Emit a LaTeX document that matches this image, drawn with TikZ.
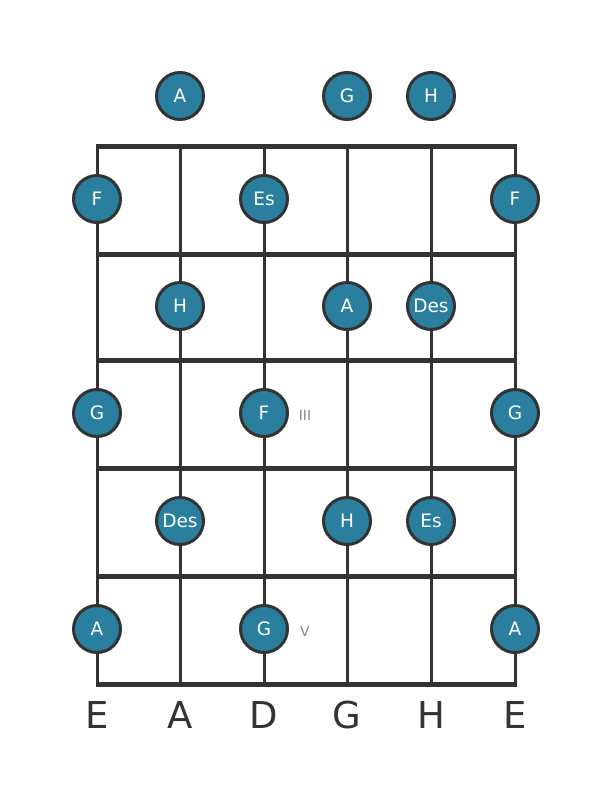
\documentclass[tikz,border=0pt]{standalone}
\usepackage{fontspec}
\setmainfont{DejaVu Sans}
\definecolor{dotfill}{HTML}{2A7F9E}
\definecolor{ink}{HTML}{333333}
\definecolor{mark}{HTML}{888888}
\begin{document}
\begin{tikzpicture}[x=1pt,y=-1pt,
  fretline/.style={draw=ink,line width=5pt},
  stringline/.style={draw=ink,line width=3pt},
  notedot/.style={circle,draw=ink,line width=3pt,fill=dotfill,minimum size=47pt,inner sep=0pt,text=white,font=\fontsize{18.5}{18.5}\selectfont},
  strlabel/.style={text=ink,font=\fontsize{37}{37}\selectfont},
  posmark/.style={text=mark,font=\fontsize{14}{14}\selectfont}]
\useasboundingbox (0,0) rectangle (611,801);
\fill[white] (0,0) rectangle (611,801);
% strings
\foreach \x/\n in {97/s1,180/s2,264/s3,347/s4,431/s5,515/s6}{
  \coordinate (\n t) at (\x,146);
  \coordinate (\n b) at (\x,684);
  \draw[stringline] (\n t) -- (\n b);
}
% frets
\foreach \y/\n in {146/f0,254/f1,360/f2,468/f3,576/f4,684/f5}{
  \coordinate (\n l) at (95.5,\y);
  \coordinate (\n r) at (516.5,\y);
  \draw[fretline] (\n l) -- (\n r);
}
% notes
\node[notedot] (o2) at (180,96) {A};
\node[notedot] (o4) at (347,96) {G};
\node[notedot] (o5) at (431,96) {H};
\node[notedot] (a1) at (97,199) {F};
\node[notedot] (a3) at (264,199) {Es};
\node[notedot] (a6) at (515,199) {F};
\node[notedot] (b2) at (180,306) {H};
\node[notedot] (b4) at (347,306) {A};
\node[notedot] (b5) at (431,306) {Des};
\node[notedot] (c1) at (97,413) {G};
\node[notedot] (c3) at (264,413) {F};
\node[notedot] (c6) at (515,413) {G};
\node[notedot] (d2) at (180,521) {Des};
\node[notedot] (d4) at (347,521) {H};
\node[notedot] (d5) at (431,521) {Es};
\node[notedot] (e1) at (97,629) {A};
\node[notedot] (e3) at (264,629) {G};
\node[notedot] (e6) at (515,629) {A};
\node[posmark] (m3) at (305,415) {III};
\node[posmark] (m5) at (305,631) {V};
% string names
\foreach \x/\t/\n in {97/E/l1,180/A/l2,264/D/l3,347/G/l4,431/H/l5,515/E/l6}{
  \node[strlabel] (\n) at (\x,715) {\t};
}
\end{tikzpicture}
\end{document}
